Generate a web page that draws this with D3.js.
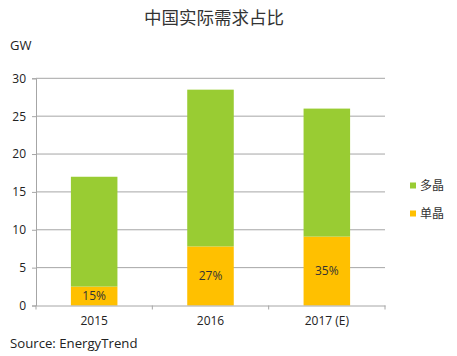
<!DOCTYPE html>
<html><head><meta charset="utf-8">
<script src="https://cdn.jsdelivr.net/npm/d3@7"></script>
<style>body{margin:0;background:#fff}</style>
</head><body>
<svg id="c" width="457" height="356"></svg>
<script>
const categories = ["2015", "2016", "2017 (E)"];
const mono = [2.5, 7.8, 9.1];
const multi = [14.5, 20.7, 16.9];
const monoShare = ["15%", "27%", "35%"];
const yTicks = [0, 5, 10, 15, 20, 25, 30];
const seriesNames = ["多晶", "单晶"];
const colors = ["#99cc33", "#ffc000"];

const svg = d3.select("#c");
const font = "'Open Sans', 'Noto Sans CJK SC', sans-serif";
const x = d3.scaleBand().domain(categories).range([36, 385]).padding(0);
const barW = x.step() * 0.4;
const bx = c => x(c) + (x.step() - barW) / 2;
const y = d3.scaleLinear().domain([0, 30]).range([305.5, 78.3]);

// gridlines
svg.append("g").selectAll("line").data(yTicks.slice(1)).join("line")
  .attr("x1", 36).attr("x2", 385).attr("y1", d => y(d)).attr("y2", d => y(d))
  .attr("stroke", "#a6a6a6").attr("stroke-width", 1);

// bars
const data = categories.map((c, i) => ({c, mono: mono[i], multi: multi[i], share: monoShare[i]}));
const stack = d3.stack().keys(["mono", "multi"])(data);
const keyColor = {mono: colors[1], multi: colors[0]};
svg.append("g").selectAll("g").data(stack).join("g")
  .attr("fill", d => keyColor[d.key])
  .selectAll("rect").data(d => d).join("rect")
  .attr("x", d => bx(d.data.c)).attr("width", barW)
  .attr("y", d => y(d[1])).attr("height", d => y(d[0]) - y(d[1]));

// y axis
const ya = svg.append("g").attr("transform", "translate(36,0)")
  .call(d3.axisLeft(y).tickValues(yTicks).tickSize(4).tickPadding(6));
ya.select(".domain").attr("stroke", "#a6a6a6");
ya.selectAll(".tick line").attr("stroke", "#a6a6a6");
ya.selectAll("text").attr("font-family", font).attr("font-size", 12).attr("fill", "#222");

// x axis
const xa = svg.append("g").attr("transform", `translate(0,${y(0)})`)
  .call(d3.axisBottom(x).tickSize(0).tickPadding(11));
xa.select(".domain").attr("stroke", "#a6a6a6");
xa.selectAll("text").attr("font-family", font).attr("font-size", 12).attr("fill", "#222");
const bounds = [...categories.map(c => x(c)), 385];
svg.append("g").selectAll("line").data(bounds).join("line")
  .attr("x1", d => d).attr("x2", d => d).attr("y1", y(0)).attr("y2", y(0) + 4)
  .attr("stroke", "#a6a6a6");

// labels
svg.append("g").selectAll("text").data(data).join("text")
  .attr("x", d => bx(d.c) + barW / 2)
  .attr("y", d => (y(0) + y(d.mono)) / 2)
  .attr("dy", "0.36em").attr("text-anchor", "middle")
  .attr("font-family", font).attr("font-size", 12).attr("fill", "#333")
  .text(d => d.share);

// title
svg.append("text").attr("x", 214).attr("y", 24).attr("text-anchor", "middle")
  .attr("font-family", "'Noto Sans CJK SC', sans-serif").attr("font-size", 17.5).attr("fill", "#333")
  .text("中国实际需求占比");
svg.append("text").attr("x", 10).attr("y", 50)
  .attr("font-family", font).attr("font-size", 13).attr("fill", "#222").text("GW");
svg.append("text").attr("x", 10).attr("y", 348)
  .attr("font-family", font).attr("font-size", 13.2).attr("fill", "#222").text("Source: EnergyTrend");

// legend
const lg = svg.append("g").selectAll("g").data(seriesNames).join("g")
  .attr("transform", (d, i) => `translate(410,${185.5 + i * 28})`);
lg.append("rect").attr("x", 0).attr("y", -3).attr("width", 6).attr("height", 6)
  .attr("fill", (d, i) => colors[i]);
lg.append("text").attr("x", 10).attr("dy", "0.36em")
  .attr("font-family", "'Noto Sans CJK SC', sans-serif").attr("font-size", 12).attr("fill", "#333")
  .text(d => d);
</script>
</body></html>
